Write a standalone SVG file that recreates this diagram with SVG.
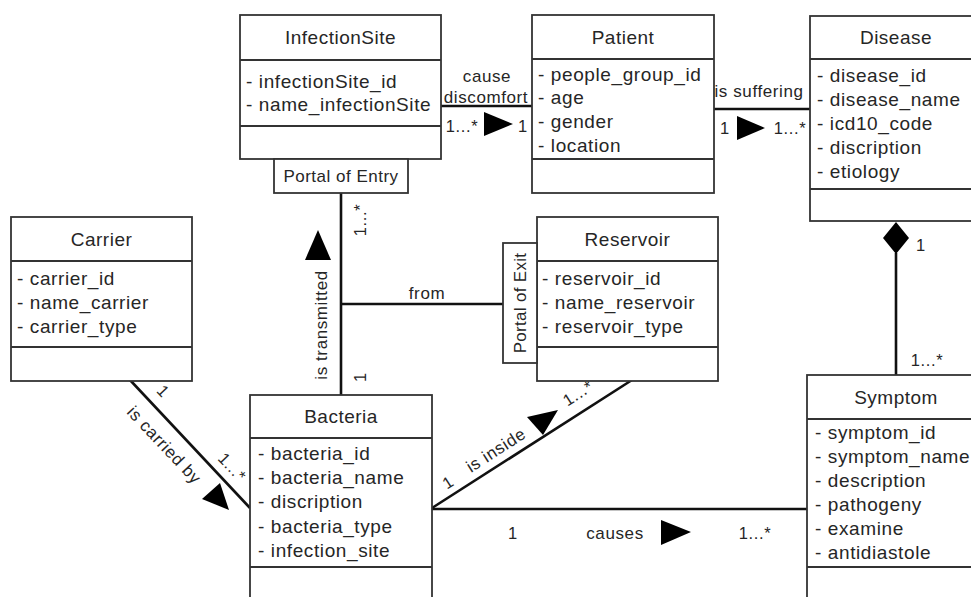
<svg xmlns="http://www.w3.org/2000/svg" width="971" height="597" viewBox="0 0 971 597">
<style>
.box{fill:#fff;stroke:#333;stroke-width:1.8}
.sep{stroke:#333;stroke-width:1.8}
.conn{stroke:#111;stroke-width:2.6;fill:none}
.tri{fill:#000}
text{font-family:"Liberation Sans",Arial,sans-serif;fill:#262626}
.title{font-size:19px;text-anchor:middle;letter-spacing:0.5px}
.attr{font-size:19px;letter-spacing:0.6px}
.lbl{font-size:17px;text-anchor:middle;letter-spacing:0.6px}
.mult{font-size:16.5px;text-anchor:middle;letter-spacing:0.6px}
</style>
<rect width="971" height="597" fill="#fff"/>

<g id="connectors">
  <line class="conn" x1="441" y1="106" x2="532" y2="106"/>
  <line class="conn" x1="714" y1="109" x2="810" y2="109"/>
  <line class="conn" x1="341" y1="193" x2="341" y2="395"/>
  <line class="conn" x1="341" y1="304" x2="503" y2="304"/>
  <line class="conn" x1="130" y1="380" x2="250" y2="508"/>
  <line class="conn" x1="432" y1="508" x2="632" y2="380"/>
  <line class="conn" x1="432" y1="509" x2="807" y2="509"/>
  <line class="conn" x1="896" y1="253" x2="896" y2="375"/>
  <polygon class="tri" points="896,222 909,238 896,254 883,238"/>
  <polygon class="tri" points="484,112 484,136 513,124"/>
  <polygon class="tri" points="737,116 737,140 765,128"/>
  <polygon class="tri" points="318,230 305,260 331,260"/>
  <polygon class="tri" points="229,510 220,483 202,499"/>
  <polygon class="tri" points="558,410 527,417 543,435"/>
  <polygon class="tri" points="661,520 661,545 691,532"/>
  <text class="lbl" x="487" y="82">cause</text>
  <text class="lbl" x="486" y="103">discomfort</text>
  <text class="mult" x="462" y="132">1...*</text>
  <text class="mult" x="523" y="132">1</text>
  <text class="lbl" x="759" y="97">is suffering</text>
  <text class="mult" x="725" y="134">1</text>
  <text class="mult" x="790" y="134">1...*</text>
  <text class="lbl" transform="translate(327,325) rotate(-90)">is transmitted</text>
  <text class="mult" transform="translate(366,220) rotate(-90)">1...*</text>
  <text class="mult" transform="translate(366,377) rotate(-90)">1</text>
  <text class="lbl" x="427" y="299">from</text>
  <text class="lbl" transform="translate(160,449) rotate(46.8)">is carried by</text>
  <text class="mult" transform="translate(159,395) rotate(46.8)">1</text>
  <text class="mult" transform="translate(228,471) rotate(46.8)">1...*</text>
  <text class="lbl" transform="translate(499,455) rotate(-32.75)">is inside</text>
  <text class="mult" transform="translate(451,487) rotate(-32.75)">1</text>
  <text class="mult" transform="translate(581,398) rotate(-32.75)">1...*</text>
  <text class="mult" x="513" y="539">1</text>
  <text class="lbl" x="615" y="539">causes</text>
  <text class="mult" x="755" y="539">1...*</text>
  <text class="mult" x="921" y="251">1</text>
  <text class="mult" x="927" y="366">1...*</text>
</g>

<g id="InfectionSite">
  <rect class="box" x="240" y="15" width="201" height="144"/>
  <line class="sep" x1="240" y1="60" x2="441" y2="60"/>
  <line class="sep" x1="240" y1="126" x2="441" y2="126"/>
  <text class="title" x="340.5" y="44">InfectionSite</text>
  <text class="attr" x="246" y="88">- infectionSite_id</text>
  <text class="attr" x="246" y="111">- name_infectionSite</text>
</g>

<g id="PortalOfEntry">
  <rect class="box" x="274" y="159" width="134" height="34"/>
  <text class="lbl" x="341" y="182" style="font-size:17px;letter-spacing:0.5px">Portal of Entry</text>
</g>

<g id="Patient">
  <rect class="box" x="532" y="15" width="182" height="178"/>
  <line class="sep" x1="532" y1="59" x2="714" y2="59"/>
  <line class="sep" x1="532" y1="159" x2="714" y2="159"/>
  <text class="title" x="623" y="44">Patient</text>
  <text class="attr" x="538" y="81">- people_group_id</text>
  <text class="attr" x="538" y="104">- age</text>
  <text class="attr" x="538" y="128">- gender</text>
  <text class="attr" x="538" y="152">- location</text>
</g>

<g id="Disease">
  <rect class="box" x="810" y="16" width="175" height="205"/>
  <line class="sep" x1="810" y1="59" x2="985" y2="59"/>
  <line class="sep" x1="810" y1="189" x2="985" y2="189"/>
  <text class="title" x="896" y="44">Disease</text>
  <text class="attr" x="817" y="82">- disease_id</text>
  <text class="attr" x="817" y="106">- disease_name</text>
  <text class="attr" x="817" y="130">- icd10_code</text>
  <text class="attr" x="817" y="154">- discription</text>
  <text class="attr" x="817" y="178">- etiology</text>
</g>

<g id="Carrier">
  <rect class="box" x="11" y="217" width="181" height="164"/>
  <line class="sep" x1="11" y1="261" x2="192" y2="261"/>
  <line class="sep" x1="11" y1="347" x2="192" y2="347"/>
  <text class="title" x="101.5" y="246">Carrier</text>
  <text class="attr" x="17" y="285">- carrier_id</text>
  <text class="attr" x="17" y="309">- name_carrier</text>
  <text class="attr" x="17" y="333">- carrier_type</text>
</g>

<g id="Reservoir">
  <rect class="box" x="537" y="217" width="181" height="164"/>
  <line class="sep" x1="537" y1="261" x2="718" y2="261"/>
  <line class="sep" x1="537" y1="347" x2="718" y2="347"/>
  <text class="title" x="627.5" y="246">Reservoir</text>
  <text class="attr" x="542" y="285">- reservoir_id</text>
  <text class="attr" x="542" y="309">- name_reservoir</text>
  <text class="attr" x="542" y="333">- reservoir_type</text>
</g>

<g id="PortalOfExit">
  <rect class="box" x="503" y="243" width="34" height="120"/>
  <text class="lbl" transform="translate(526,303) rotate(-90)" style="font-size:17px;letter-spacing:0.3px">Portal of Exit</text>
</g>

<g id="Bacteria">
  <rect class="box" x="250" y="395" width="182" height="215"/>
  <line class="sep" x1="250" y1="438" x2="432" y2="438"/>
  <line class="sep" x1="250" y1="567" x2="432" y2="567"/>
  <text class="title" x="341" y="423">Bacteria</text>
  <text class="attr" x="258" y="460">- bacteria_id</text>
  <text class="attr" x="258" y="484">- bacteria_name</text>
  <text class="attr" x="258" y="508">- discription</text>
  <text class="attr" x="258" y="533">- bacteria_type</text>
  <text class="attr" x="258" y="557">- infection_site</text>
</g>

<g id="Symptom">
  <rect class="box" x="807" y="375" width="180" height="235"/>
  <line class="sep" x1="807" y1="419" x2="987" y2="419"/>
  <line class="sep" x1="807" y1="567" x2="987" y2="567"/>
  <text class="title" x="896" y="404">Symptom</text>
  <text class="attr" x="815" y="439">- symptom_id</text>
  <text class="attr" x="815" y="463">- symptom_name</text>
  <text class="attr" x="815" y="487">- description</text>
  <text class="attr" x="815" y="511">- pathogeny</text>
  <text class="attr" x="815" y="535">- examine</text>
  <text class="attr" x="815" y="559">- antidiastole</text>
</g>
</svg>
